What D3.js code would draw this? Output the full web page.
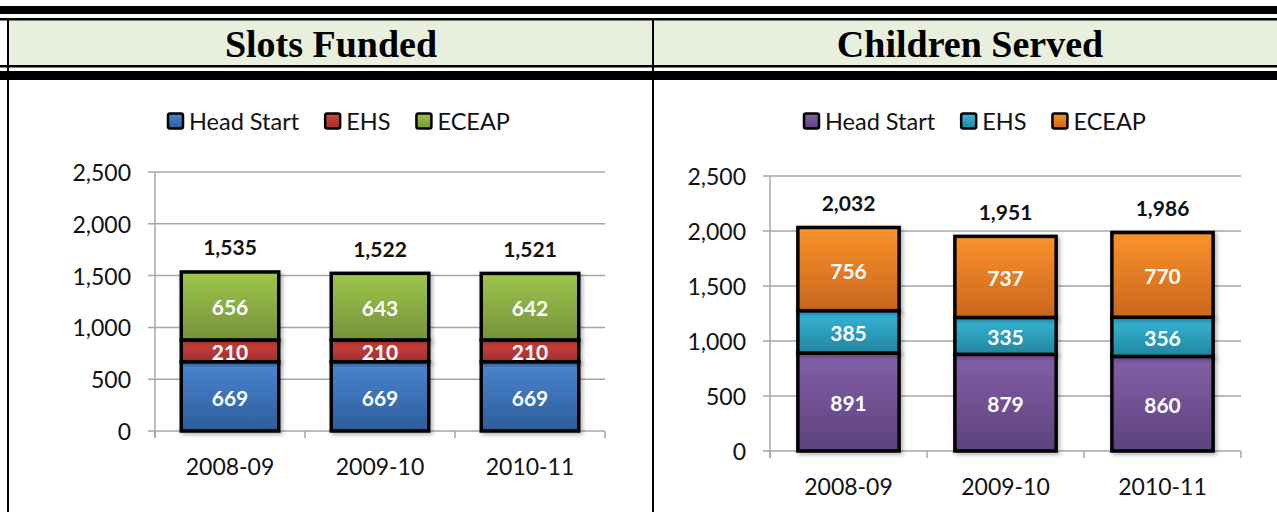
<!DOCTYPE html>
<html><head>
<meta charset="utf-8">
<script src="https://d3js.org/d3.v7.min.js"></script>
<style>
  body { margin: 0; background: #fff; }
  svg text { font-family: Lato, "Open Sans", sans-serif; }
  .title { font-family: "Liberation Serif", serif; font-weight: bold; font-size: 38px; text-anchor: middle; }
  .grid line { stroke: #a6a6a6; stroke-width: 1.5; }
  .tick-label { font-size: 23px; fill: #111; }
  .legend-label { font-size: 23.5px; fill: #111; }
  .seg-label { font-size: 21px; font-weight: bold; fill: #fff; text-anchor: middle; dominant-baseline: central; }
  .total-label { font-size: 21px; font-weight: bold; fill: #111; text-anchor: middle; dominant-baseline: central; }
</style>
</head>
<body>
<svg id="chart" width="1277" height="512"></svg>
<script>
// ---- data ----
let years = ["2008-09", "2009-10", "2010-11"];
let yTicks = [0, 500, 1000, 1500, 2000, 2500];

let slotSeries = ["Head Start", "EHS", "ECEAP"];
let slotHeadStart = [669, 669, 669];
let slotEHS = [210, 210, 210];
let slotECEAP = [656, 643, 642];
let slotTotals = [1535, 1522, 1521];

let servedSeries = ["Head Start", "EHS", "ECEAP"];
let servedHeadStart = [891, 879, 860];
let servedEHS = [385, 335, 356];
let servedECEAP = [756, 737, 770];
let servedTotals = [2032, 1951, 1986];

let svg = d3.select("#chart");
let defs = svg.append("defs");

// gradients (top colour, bottom colour)
function grad(id, top, bottom) {
  let g = defs.append("linearGradient").attr("id", id)
    .attr("x1", 0).attr("y1", 0).attr("x2", 0).attr("y2", 1);
  g.append("stop").attr("offset", "0%").attr("stop-color", top);
  g.append("stop").attr("offset", "100%").attr("stop-color", bottom);
}
grad("gBlue", "#4a87d2", "#2d5c98");
grad("gRed", "#d5443f", "#9f2f2c");
grad("gGreen", "#9dc64b", "#76923b");
grad("gPurple", "#8360a8", "#5d427e");
grad("gTeal", "#36b7d9", "#23859f");
grad("gOrange", "#fb922c", "#c9661e");

let shadow = defs.append("filter").attr("id", "shadow").attr("x", "-20%").attr("y", "-20%").attr("width", "140%").attr("height", "140%");
shadow.append("feDropShadow").attr("dx", 2).attr("dy", 2).attr("stdDeviation", 2).attr("flood-color", "#000").attr("flood-opacity", 0.3);

// ---- frame / header ----
svg.append("rect").attr("x", 0).attr("y", 6).attr("width", 1277).attr("height", 8).attr("fill", "#000");
svg.append("rect").attr("x", 8).attr("y", 20).attr("width", 1269).attr("height", 46).attr("fill", "#e8f0dd");
svg.append("rect").attr("x", 0).attr("y", 18).attr("width", 1277).attr("height", 2.5).attr("fill", "#000");
svg.append("rect").attr("x", 0).attr("y", 65).attr("width", 1277).attr("height", 2.5).attr("fill", "#000");
svg.append("rect").attr("x", 0).attr("y", 71).attr("width", 1277).attr("height", 9).attr("fill", "#000");
svg.append("line").attr("x1", 8).attr("x2", 8).attr("y1", 18).attr("y2", 512).attr("stroke", "#000").attr("stroke-width", 2);
svg.append("line").attr("x1", 653).attr("x2", 653).attr("y1", 18).attr("y2", 512).attr("stroke", "#000").attr("stroke-width", 2);

svg.append("text").attr("class", "title").attr("x", 331).attr("y", 57).text("Slots Funded");
svg.append("text").attr("class", "title").attr("x", 970).attr("y", 57).text("Children Served");

// ---- one stacked chart ----
function drawChart(opt) {
  let g = svg.append("g");
  let x = d3.scaleBand().domain(years).range([opt.x0, opt.x1]);
  let y = d3.scaleLinear().domain([0, 2500]).range([opt.yBottom, opt.yTop]);

  // gridlines
  g.append("g").attr("class", "grid").selectAll("line").data(yTicks).join("line")
    .attr("x1", opt.x0 - 7).attr("x2", opt.x1)
    .attr("y1", d => y(d)).attr("y2", d => y(d));
  // axis lines & ticks
  g.append("line").attr("x1", opt.x0).attr("x2", opt.x0).attr("y1", opt.yTop).attr("y2", opt.yBottom + 7)
    .attr("stroke", "#a6a6a6").attr("stroke-width", 1.5);
  g.append("g").selectAll("line").data(years.concat(["end"])).join("line")
    .attr("x1", (d, i) => opt.x0 + i * x.step()).attr("x2", (d, i) => opt.x0 + i * x.step())
    .attr("y1", opt.yBottom).attr("y2", opt.yBottom + 7)
    .attr("stroke", "#a6a6a6").attr("stroke-width", 1.5);

  g.append("g").selectAll("text").data(yTicks).join("text")
    .attr("class", "tick-label").attr("text-anchor", "end").attr("dominant-baseline", "central")
    .attr("x", opt.x0 - 24).attr("y", d => y(d))
    .text(d => d3.format(",")(d));

  g.append("g").selectAll("text").data(years).join("text")
    .attr("class", "tick-label").attr("text-anchor", "middle").attr("dominant-baseline", "central")
    .attr("x", d => x(d) + x.bandwidth() / 2).attr("y", opt.yBottom + 35)
    .text(d => d);

  // stacked bars
  let rows = years.map((yr, i) => {
    let r = { year: yr };
    opt.series.forEach((s, k) => r[s] = opt.values[k][i]);
    return r;
  });
  let stack = d3.stack().keys(opt.series)(rows);
  let bw = x.bandwidth() * opt.barFrac;

  stack.forEach((layer, k) => {
    let lg = g.append("g");
    lg.selectAll("rect").data(layer).join("rect")
      .attr("x", d => x(d.data.year) + (x.bandwidth() - bw) / 2)
      .attr("y", d => y(d[1]))
      .attr("width", bw)
      .attr("height", d => y(d[0]) - y(d[1]))
      .attr("fill", "url(#" + opt.fills[k] + ")")
      .attr("stroke", "#000").attr("stroke-width", 3.5)
      .attr("filter", "url(#shadow)");
  });
  stack.forEach((layer, k) => {
    g.append("g").selectAll("text").data(layer).join("text")
      .attr("class", "seg-label")
      .attr("x", d => x(d.data.year) + x.bandwidth() / 2)
      .attr("y", d => (y(d[0]) + y(d[1])) / 2 + 1)
      .text(d => d3.format(",")(d[1] - d[0]));
  });

  g.append("g").selectAll("text").data(opt.totals).join("text")
    .attr("class", "total-label")
    .attr("x", (d, i) => x(years[i]) + x.bandwidth() / 2)
    .attr("y", d => y(d) - 25)
    .text(d => d3.format(",")(d));

  // legend
  let lx = opt.legendX;
  opt.series.forEach((s, k) => {
    g.append("rect").attr("x", lx + 2).attr("y", opt.legendY - 7.5).attr("width", 15).attr("height", 15)
      .attr("rx", 2).attr("fill", "url(#" + opt.fills[k] + ")")
      .attr("stroke", "#000").attr("stroke-width", 2.5);
    let t = g.append("text").attr("class", "legend-label").attr("dominant-baseline", "central")
      .attr("x", lx + 23).attr("y", opt.legendY).text(s);
    lx += 23 + t.node().getComputedTextLength() + 24;
  });
}

drawChart({
  x0: 155, x1: 605, yBottom: 431, yTop: 172, barFrac: 0.65,
  series: slotSeries, values: [slotHeadStart, slotEHS, slotECEAP], totals: slotTotals,
  fills: ["gBlue", "gRed", "gGreen"], legendX: 166, legendY: 121
});
drawChart({
  x0: 770, x1: 1241, yBottom: 451, yTop: 176, barFrac: 0.645,
  series: servedSeries, values: [servedHeadStart, servedEHS, servedECEAP], totals: servedTotals,
  fills: ["gPurple", "gTeal", "gOrange"], legendX: 802, legendY: 121
});
</script>
</body>
</html>
